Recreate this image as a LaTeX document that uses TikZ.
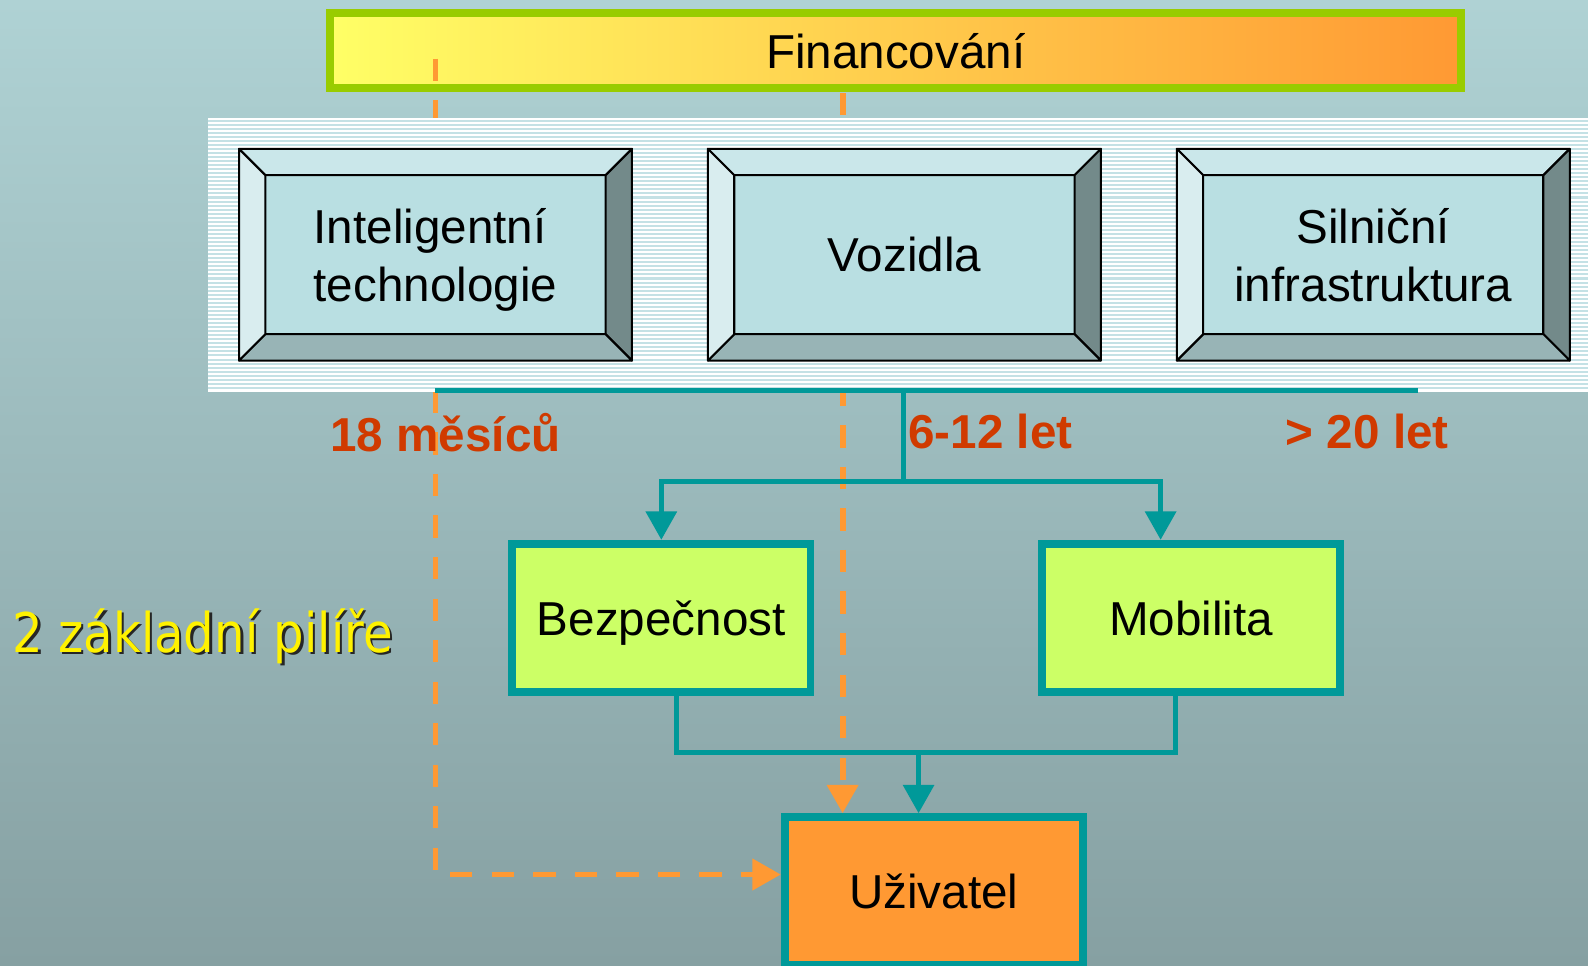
\documentclass[tikz,border=0pt]{standalone}
\usepackage{fontspec}
\setmainfont{Liberation Sans}
\newfontfamily\pillarfont[FakeStretch=0.88]{DejaVu Sans}
\usetikzlibrary{arrows.meta,calc}

\definecolor{bgtop}{HTML}{AFD2D4}
\definecolor{bgbot}{HTML}{86A0A2}
\definecolor{fingreen}{HTML}{99CC00}
\definecolor{finL}{HTML}{FFFF66}
\definecolor{finM}{HTML}{FFDC5A}
\definecolor{finR}{HTML}{FF9933}
\definecolor{stripeblue}{HTML}{C4E1E5}
\definecolor{tealc}{HTML}{009999}
\definecolor{orangec}{HTML}{FF9933}
\definecolor{bevface}{HTML}{B9DFE2}
\definecolor{bevtop}{HTML}{CAE7EA}
\definecolor{bevleft}{HTML}{D9EDEF}
\definecolor{bevbot}{HTML}{98B4B6}
\definecolor{bevright}{HTML}{738A8A}
\definecolor{pillargreen}{HTML}{CCFF66}
\definecolor{lblred}{HTML}{D03A00}

% four shaded bevels around a face node
\newcommand\bevelaround[1]{%
  \coordinate (i1) at (#1.north west);
  \coordinate (i2) at (#1.north east);
  \coordinate (i3) at (#1.south east);
  \coordinate (i4) at (#1.south west);
  \filldraw[bevedge,fill=bevtop] ($(i1)+(-26,-26)$) -- ($(i2)+(26,-26)$) -- (i2) -- (i1) -- cycle;
  \filldraw[bevedge,fill=bevright] ($(i2)+(26,-26)$) -- ($(i3)+(26,26)$) -- (i3) -- (i2) -- cycle;
  \filldraw[bevedge,fill=bevbot] ($(i3)+(26,26)$) -- ($(i4)+(-26,26)$) -- (i4) -- (i3) -- cycle;
  \filldraw[bevedge,fill=bevleft] ($(i4)+(-26,26)$) -- ($(i1)+(-26,-26)$) -- (i1) -- (i4) -- cycle;
}

\begin{document}
\begin{tikzpicture}[x=0.5pt,y=-0.5pt,
  boxtext/.style={font=\fontsize{23.5}{28.5}\selectfont, text=black, text depth=0pt},
  lbl/.style={font=\bfseries\fontsize{23.5}{28}\selectfont, text=lblred, anchor=base, inner sep=0pt},
  finbox/.style={draw=fingreen, line width=4pt, left color=finL, middle color=finM, right color=finR,
    minimum width=558.5pt, minimum height=37pt, boxtext},
  face/.style={draw=black, line width=1pt, fill=bevface, minimum width=168pt, minimum height=78.5pt,
    outer sep=0pt, inner sep=0pt, boxtext},
  bevedge/.style={draw=black, line width=1pt, line join=round},
  pillarbox/.style={draw=tealc, line width=3.8pt, fill=pillargreen, minimum width=147.2pt,
    minimum height=73.2pt, boxtext},
  userbox/.style={draw=tealc, line width=3.8pt, fill=orangec, minimum width=147.2pt,
    minimum height=72.7pt, boxtext},
  tealline/.style={draw=tealc, line width=2.5pt},
  tealarrow/.style={tealline, -{Triangle[length=14pt,width=15pt]}},
  odash/.style={draw=orangec, line width=2.9pt, dash pattern=on 11pt off 9.5pt,
    -{Triangle[length=14pt,width=15pt]}},
  stripe/.style={draw=stripeblue, line width=1pt},
]
\useasboundingbox (0,0) rectangle (1568,953);
\shade[top color=bgtop, bottom color=bgbot] (0,0) rectangle (1568,953);

% funding bar
\node[finbox] (fin) at (884.5,50) {Financování};

% the two pillars and the user
\node[pillarbox] (bez) at (653,610) {Bezpečnost};
\node[pillarbox] (mob) at (1176,610) {Mobilita};
\node[userbox] (uzi) at (922,879.5) {Uživatel};

% funding flows
\coordinate (finA) at (430,58);
\coordinate (finB) at (832,92);
\draw[odash] (finA) |- ($(uzi.west)+(0,-16)$);
\draw[odash] (finB) -- (finB |- uzi.north);

% striped band behind the three domains
\fill[white] (205,117) rectangle (1568,387);
\foreach \yy in {119,123,...,385} \draw[stripe] (205,\yy) -- (1568,\yy);

% domains
\node[face, align=left] (tech) at (430,251.5) {Inteligentní\\technologie};
\bevelaround{tech}
\node[face] (veh) at (893,251.5) {Vozidla};
\bevelaround{veh}
\node[face, align=center] (road) at (1356,251.5) {Silniční\\infrastruktura};
\bevelaround{road}

% time horizons
\node[lbl] (t18) at (440,446) {18 měsíců};
\node[lbl] (t612) at (978,443) {6-12 let};
\node[lbl] (t20) at (1350,443) {> 20 let};

% teal connectors
\coordinate (barL) at (430,386);
\coordinate (barR) at (1400,386);
\coordinate (hub) at (892,386);
\coordinate (split) at (892,475);
\coordinate (join) at (907,743);
\draw[tealline] (barL) -- (barR);
\draw[tealline] (hub) -- (split);
\draw[tealarrow] (split) -| (bez.north);
\draw[tealarrow] (split) -| ($(mob.north)+(-30,0)$);
\draw[tealline] ($(bez.south)+(15,0)$) |- (join) -| ($(mob.south)+(-15,0)$);
\draw[tealarrow] (join) -- (join |- uzi.north);

% side caption with shadow
\node[font=\pillarfont\fontsize{27}{32}\selectfont, text=black!85, anchor=base west, inner sep=0pt]
  (pillarshadow) at (14.5,646.5) {2 základní pilíře};
\node[font=\pillarfont\fontsize{27}{32}\selectfont, text=yellow, anchor=base west, inner sep=0pt]
  (pillar) at (12,644) {2 základní pilíře};
\end{tikzpicture}
\end{document}
